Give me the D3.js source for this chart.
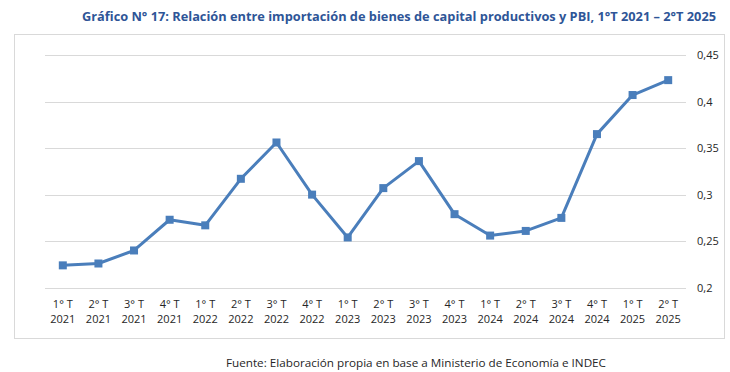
<!DOCTYPE html>
<html>
<head>
<meta charset="utf-8">
<script src="https://cdn.jsdelivr.net/npm/d3@7"></script>
<style>
  body { margin: 0; background: #fff; }
  text { font-family: "Open Sans", "Noto Sans", sans-serif; }
</style>
</head>
<body>
<div class="chart"></div>
<script>
let quarters = ["1° T","2° T","3° T","4° T","1° T","2° T","3° T","4° T","1° T","2° T","3° T","4° T","1° T","2° T","3° T","4° T","1° T","2° T"]
let years = ["2021","2021","2021","2021","2022","2022","2022","2022","2023","2023","2023","2023","2024","2024","2024","2024","2025","2025"]
let ratio = [0.224, 0.226, 0.240, 0.273, 0.267, 0.317, 0.356, 0.300, 0.254, 0.307, 0.336, 0.279, 0.256, 0.261, 0.275, 0.365, 0.407, 0.423]
let y_ticks = [0.2, 0.25, 0.3, 0.35, 0.4, 0.45]
let title = "Gráfico N° 17: Relación entre importación de bienes de capital productivos y PBI, 1°T 2021 – 2°T 2025"
let source = "Fuente: Elaboración propia en base a Ministerio de Economía e INDEC"

let width = 730
let height = 372
let color = "#4a7ebb"

let svg = d3.select(".chart")
    .append("svg")
        .attr("width", width)
        .attr("height", height)

svg.append("text")
    .attr("x", 716)
    .attr("y", 21)
    .attr("text-anchor", "end")
    .attr("font-size", 13)
    .attr("font-weight", "bold")
    .attr("fill", "#2e5597")
    .attr("textLength", 634)
    .attr("lengthAdjust", "spacingAndGlyphs")
    .text(title)

// chart border
svg.append("rect")
    .attr("x", 14.5)
    .attr("y", 34.5)
    .attr("width", 710)
    .attr("height", 304)
    .attr("fill", "none")
    .attr("stroke", "#d9d9d9")

let x = d3.scaleBand()
    .domain(d3.range(ratio.length))
    .range([45, 686])

let y = d3.scaleLinear()
    .domain([0.2, 0.45])
    .range([287.7, 55])

// grid
svg.append("g")
    .selectAll("line")
    .data(y_ticks)
    .enter()
    .append("line")
        .attr("x1", 45)
        .attr("x2", 686)
        .attr("y1", d => Math.round(y(d)) + 0.5)
        .attr("y2", d => Math.round(y(d)) + 0.5)
        .attr("stroke", "#d9d9d9")
        .attr("stroke-width", 1)

let fmt = d => String(d).replace(".", ",")

svg.append("g")
    .selectAll("text")
    .data(y_ticks)
    .enter()
    .append("text")
        .attr("x", 697)
        .attr("y", d => y(d) + 4)
        .attr("font-size", 11)
        .attr("fill", "#262626")
        .text(fmt)

// x labels
let xl = svg.append("g")
    .selectAll("g")
    .data(ratio)
    .enter()
    .append("g")
        .attr("transform", (d, i) => "translate(" + (x(i) + x.bandwidth() / 2) + ",0)")

xl.append("text")
    .attr("y", 308)
    .attr("text-anchor", "middle")
    .attr("font-size", 11)
    .attr("fill", "#262626")
    .text((d, i) => quarters[i])

xl.append("text")
    .attr("y", 323)
    .attr("text-anchor", "middle")
    .attr("font-size", 11)
    .attr("fill", "#262626")
    .text((d, i) => years[i])

// line + markers
svg.append("path")
    .datum(ratio)
    .attr("fill", "none")
    .attr("stroke", color)
    .attr("stroke-width", 3)
    .attr("stroke-linejoin", "round")
    .attr("d", d3.line()
        .x((d, i) => x(i) + x.bandwidth() / 2)
        .y(d => y(d))
    )

svg.append("g")
    .selectAll("rect")
    .data(ratio)
    .enter()
    .append("rect")
        .attr("x", (d, i) => x(i) + x.bandwidth() / 2 - 4)
        .attr("y", d => y(d) - 4)
        .attr("width", 8)
        .attr("height", 8)
        .attr("fill", color)

svg.append("text")
    .attr("x", 416)
    .attr("y", 367)
    .attr("text-anchor", "middle")
    .attr("font-size", 11)
    .attr("fill", "#262626")
    .attr("textLength", 380)
    .attr("lengthAdjust", "spacingAndGlyphs")
    .text(source)
</script>
</body>
</html>
